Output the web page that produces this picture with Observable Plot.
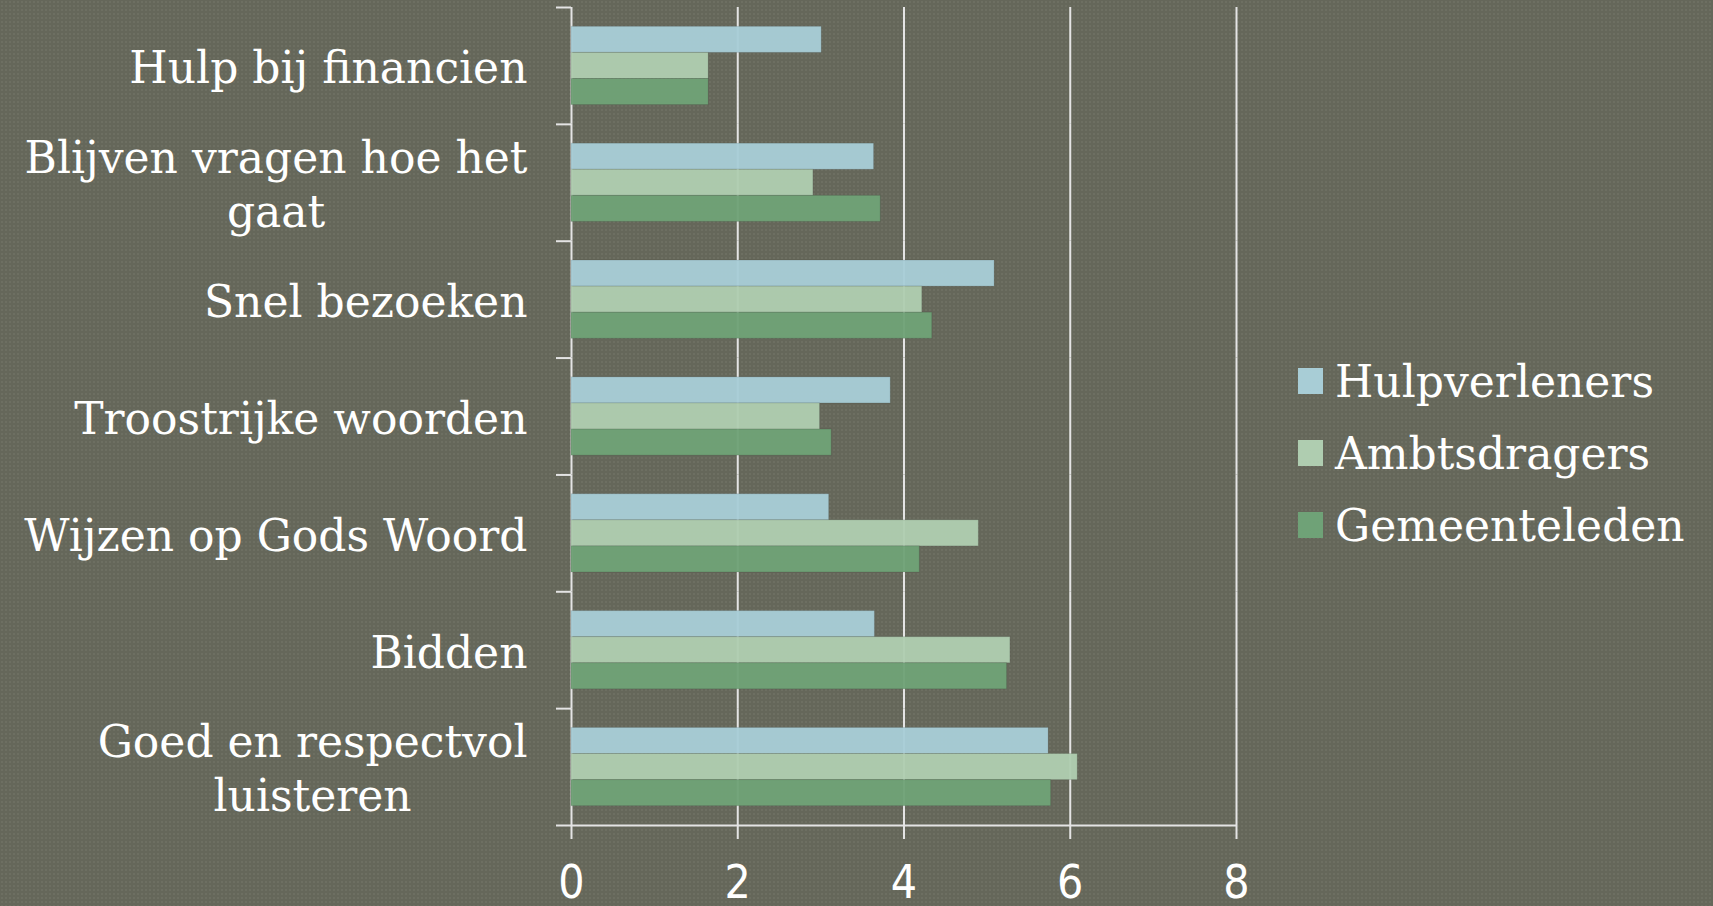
<!DOCTYPE html>
<html>
<head>
<meta charset="utf-8">
<script src="https://cdn.jsdelivr.net/npm/d3@7"></script>
<script src="https://cdn.jsdelivr.net/npm/@observablehq/plot@0.6"></script>
<style>
  html, body { margin: 0; padding: 0; }
  body {
    width: 1713px; height: 906px; overflow: hidden;
    background-color: #65675a;
    background-image: radial-gradient(rgba(255,255,255,0.05) 1px, transparent 1.2px);
    background-size: 4px 4px;
    font-family: "DejaVu Serif", serif;
  }
  #wrap { position: relative; width: 1713px; height: 906px; }
  #legend { position: absolute; left: 1298px; top: 357px; display: flex; flex-direction: column; gap: 24px; }
  .item { display: flex; align-items: center; height: 48px; color: #ffffff; font-size: 44px; }
  .sw { width: 25px; height: 26px; margin-right: 12px; }
  svg g[aria-label="x-axis tick label"] { font-family: "Liberation Sans Narrow", "DejaVu Sans Condensed", sans-serif; }
</style>
</head>
<body>
<div id="wrap"><div id="chart"></div><div id="legend"></div></div>
<script>
const categories = ["Hulp bij financien", "Blijven vragen hoe het gaat", "Snel bezoeken", "Troostrijke woorden", "Wijzen op Gods Woord", "Bidden", "Goed en respectvol luisteren"];
const categoryLabels = ["Hulp bij financien", "Blijven vragen hoe het\ngaat", "Snel bezoeken", "Troostrijke woorden", "Wijzen op Gods Woord", "Bidden", "Goed en respectvol\nluisteren"];
const series = ["Hulpverleners", "Ambtsdragers", "Gemeenteleden"];
const hulpverleners = [3.01, 3.64, 5.09, 3.84, 3.10, 3.65, 5.74];
const ambtsdragers  = [1.65, 2.91, 4.22, 2.99, 4.90, 5.28, 6.09];
const gemeenteleden = [1.65, 3.72, 4.34, 3.13, 4.19, 5.24, 5.77];
const xTicks = [0, 2, 4, 6, 8];
const colors = ["#a8cdd6", "#afcdb0", "#6fa277"];

const valuesBySeries = [hulpverleners, ambtsdragers, gemeenteleden];
const data = [];
categories.forEach((c, i) => series.forEach((s, j) => data.push({category: c, series: s, value: valuesBySeries[j][i]})));
const labelOf = new Map(categories.map((c, i) => [c, categoryLabels[i]]));
const lastCategory = categories[categories.length - 1];

const W = 1713, H = 906, mTop = 7, mBottom = 81, mLeft = 571, mRight = 477;
const bandH = (H - mTop - mBottom) / categories.length;
const lineColor = "#e4e4e4";

const chart = Plot.plot({
  width: W, height: H,
  marginTop: mTop, marginBottom: mBottom, marginLeft: mLeft, marginRight: mRight,
  style: {background: "transparent", color: lineColor, fontFamily: "'DejaVu Serif', serif"},
  x: {domain: [0, 8], ticks: xTicks},
  fy: {domain: categories, padding: 0, round: false},
  y: {domain: series, paddingInner: 0, paddingOuter: 0.74, round: false, axis: null},
  color: {domain: series, range: colors},
  marks: [
    Plot.ruleX(xTicks, {stroke: lineColor, strokeWidth: 2}),
    Plot.barX(data, {fy: "category", y: "series", x: "value", fill: "series", stroke: "#000", strokeOpacity: 0.1, strokeWidth: 1, fillOpacity: 0.96}),
    Plot.ruleY([lastCategory], {fy: d => d, y: null, dy: bandH / 2, stroke: lineColor, strokeWidth: 2}),
    Plot.axisX({anchor: "bottom", ticks: xTicks, tickSize: 14, tickPadding: 26, fontSize: 46, strokeWidth: 2, fill: "#ffffff", label: null}),
    Plot.axisFy({anchor: "left", tickSize: 15, dy: -bandH / 2, text: null, tickFormat: () => "", stroke: lineColor, strokeWidth: 2, label: null}),
    Plot.axisFy({anchor: "left", ticks: [lastCategory], tickSize: 15, dy: bandH / 2, text: null, tickFormat: () => "", stroke: lineColor, strokeWidth: 2, label: null}),
    Plot.axisFy({anchor: "left", tickSize: 0, tickPadding: 44, fontSize: 44, lineHeight: 1.23, fill: "#ffffff", tickFormat: d => labelOf.get(d), label: null})
  ]
});
document.getElementById("chart").appendChild(chart);

// center each line of multi-line labels within its (right-aligned) block
chart.querySelectorAll("text").forEach(t => {
  const spans = t.querySelectorAll("tspan");
  if (spans.length > 1) {
    const widths = Array.from(spans, s => s.getComputedTextLength());
    const maxW = Math.max(...widths);
    spans.forEach((s, k) => s.setAttribute("dx", -(maxW - widths[k]) / 2));
  }
});

const legend = document.getElementById("legend");
series.forEach((s, i) => {
  const item = document.createElement("div");
  item.className = "item";
  const sw = document.createElement("div");
  sw.className = "sw";
  sw.style.background = colors[i];
  const tx = document.createElement("span");
  tx.textContent = s;
  item.appendChild(sw); item.appendChild(tx);
  legend.appendChild(item);
});
</script>
</body>
</html>
